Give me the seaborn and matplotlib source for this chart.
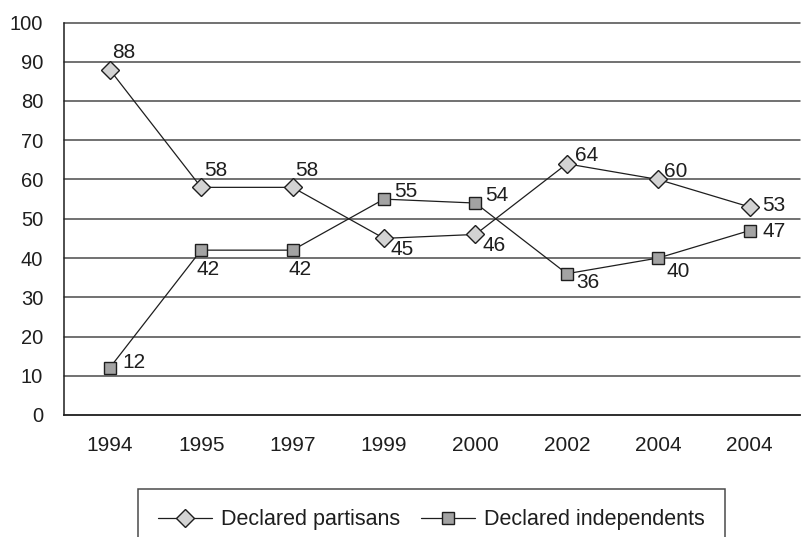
import matplotlib
matplotlib.use("Agg")
import matplotlib.pyplot as plt
from matplotlib.lines import Line2D
import numpy as np
import pandas as pd
import seaborn as sns

# Survey waves (the last two waves share the same year label)
years = ["1994", "1995", "1997", "1999", "2000", "2002", "2004", "2004"]
partisans = [88, 58, 58, 45, 46, 64, 60, 53]
independents = [12, 42, 42, 55, 54, 36, 40, 47]

# Label placement for each point: (dx, dy) in points, text anchored at its baseline
partisan_label_offsets = [(2, 8), (2, 8), (2, 8), (5, -12), (5, -12), (6, 2), (4, 2), (9, -3)]
independent_label_offsets = [(9, 0), (-3, -18), (-3, -18), (7, 1.5), (7, 1.5), (7, -10), (6, -14), (9, -4.5)]

sns.set_style("white")
plt.rcParams["font.family"] = ["Liberation Sans", "DejaVu Sans"]

INK = "#1e1e1e"
GRID = "#4a4a4a"
FS = 15

pos = np.arange(len(years))
df = pd.DataFrame({
    "pos": np.concatenate([pos, pos]),
    "value": partisans + independents,
    "series": ["Declared partisans"] * len(pos) + ["Declared independents"] * len(pos),
})

fig = plt.figure(figsize=(8.01, 5.37), dpi=100)
ax = fig.add_axes([64 / 801, 1 - 415 / 537, (800 - 64) / 801, (415 - 22.5) / 537])

# Horizontal grid
for v in range(10, 101, 10):
    ax.axhline(v, color=GRID, lw=1.1, zorder=1, clip_on=False)

sub_p = df[df["series"] == "Declared partisans"]
sub_i = df[df["series"] == "Declared independents"]
sns.lineplot(data=sub_p, x="pos", y="value", ax=ax, color=INK, lw=0.9,
             marker="D", markersize=9.3, markerfacecolor="#d3d3d3",
             markeredgecolor=INK, markeredgewidth=1.0, zorder=3, legend=False)
sns.lineplot(data=sub_i, x="pos", y="value", ax=ax, color=INK, lw=0.9,
             marker="s", markersize=8.7, markerfacecolor="#a3a3a3",
             markeredgecolor=INK, markeredgewidth=1.0, zorder=3, legend=False)

for x, v, (dx, dy) in zip(pos, partisans, partisan_label_offsets):
    ax.annotate(str(v), (x, v), xytext=(dx, dy), textcoords="offset points",
                ha="left", va="baseline", fontsize=FS, color=INK, zorder=4)
for x, v, (dx, dy) in zip(pos, independents, independent_label_offsets):
    ax.annotate(str(v), (x, v), xytext=(dx, dy), textcoords="offset points",
                ha="left", va="baseline", fontsize=FS, color=INK, zorder=4)

ax.set_xlim(-0.5, 7.55)
ax.set_ylim(0, 100)
ax.set_xlabel("")
ax.set_ylabel("")

# Category labels centered, tick marks on the category boundaries
ax.set_xticks(pos)
ax.set_xticklabels(years)
ax.set_xticks(np.arange(-0.5, 7.0, 1.0), minor=True)
ax.tick_params(axis="x", which="major", length=0, pad=15, labelsize=FS, labelcolor=INK)
ax.tick_params(axis="x", which="minor", length=8, width=1.1, color=INK, direction="out")
ax.set_yticks(range(0, 101, 10))
ax.tick_params(axis="y", which="major", length=8, width=1.1, color=GRID, pad=7,
               labelsize=FS - 0.5, labelcolor=INK, direction="out")

ax.spines["right"].set_visible(False)
ax.spines["top"].set_visible(False)
ax.spines["left"].set_color(INK)
ax.spines["left"].set_linewidth(1.1)
ax.spines["bottom"].set_color(INK)
ax.spines["bottom"].set_linewidth(1.3)

handles = [
    Line2D([], [], color=INK, lw=0.9, marker="D", markersize=9.3,
           markerfacecolor="#d3d3d3", markeredgecolor=INK),
    Line2D([], [], color=INK, lw=0.9, marker="s", markersize=8.7,
           markerfacecolor="#a3a3a3", markeredgecolor=INK),
]
leg = fig.legend(handles, ["Declared partisans", "Declared independents"],
                 loc="upper center", bbox_to_anchor=(431.5 / 801, 1 - 489 / 537),
                 borderaxespad=0, ncol=2, fontsize=15.5, frameon=True, fancybox=False,
                 borderpad=0.95, handlelength=2.5, handletextpad=0.4,
                 columnspacing=1.0, labelcolor=INK)
leg.get_frame().set_edgecolor(INK)
leg.get_frame().set_linewidth(1.1)

fig.savefig("out.png", dpi=100)
